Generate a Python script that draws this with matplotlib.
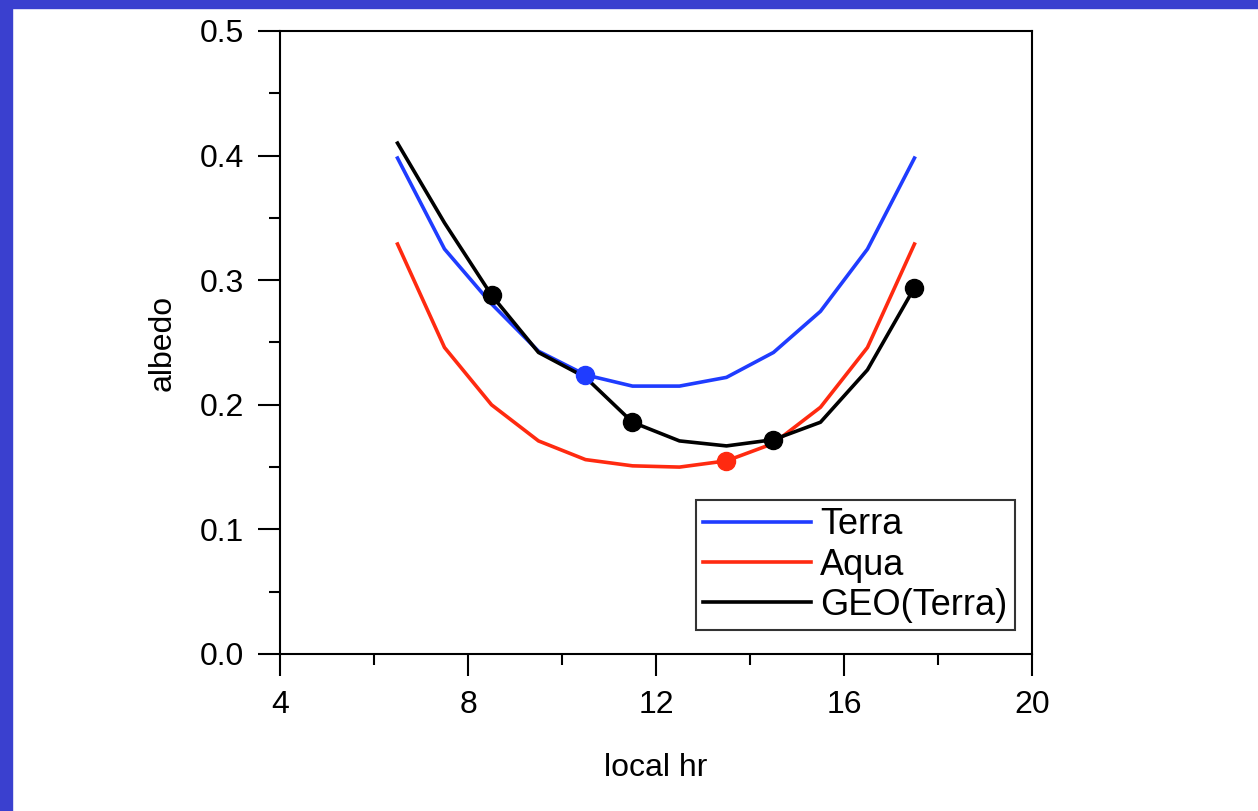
import numpy as np
import matplotlib
matplotlib.use('Agg')
import matplotlib.pyplot as plt
from matplotlib.patches import Rectangle
from matplotlib.ticker import MultipleLocator

plt.rcParams['font.family'] = ['Liberation Sans', 'DejaVu Sans']

# hora local (cada media hora entre 6.5 y 17.5)
horas = [6.5, 7.5, 8.5, 9.5, 10.5, 11.5, 12.5, 13.5, 14.5, 15.5, 16.5, 17.5]

terra = [0.398, 0.325, 0.281, 0.243, 0.224, 0.215, 0.215, 0.222, 0.242, 0.275, 0.325, 0.398]
aqua = [0.329, 0.246, 0.200, 0.171, 0.156, 0.151, 0.150, 0.155, 0.169, 0.198, 0.246, 0.329]
geo = [0.410, 0.346, 0.288, 0.242, 0.222, 0.186, 0.171, 0.167, 0.172, 0.186, 0.228, 0.294]

# horas donde hay punto
pts_terra = [10.5]
pts_aqua = [13.5]
pts_geo = [8.5, 11.5, 14.5, 17.5]

fig = plt.figure(figsize=(12.58, 8.11), dpi=100)
fig.patch.set_facecolor('white')

# borde azul de la diapositiva
azul = '#3a40cf'
fig.patches.append(Rectangle((0, 0), 0.0095, 1, transform=fig.transFigure, color=azul, zorder=0))
fig.patches.append(Rectangle((0, 0.99), 1, 0.01, transform=fig.transFigure, color=azul, zorder=0))

ax = fig.add_axes([0.2226, 0.1936, 0.5977, 0.7682])

ax.plot(horas, terra, color='#1f3cff', lw=2.6, label='Terra')
ax.plot(horas, aqua, color='#ff2a10', lw=2.6, label='Aqua')
ax.plot(horas, geo, color='black', lw=2.6, label='GEO(Terra)')

def marcar(lista_h, serie, color):
    ys = [serie[horas.index(h)] for h in lista_h]
    ax.plot(lista_h, ys, 'o', color=color, ms=13, zorder=5)

marcar(pts_terra, terra, '#1f3cff')
marcar(pts_aqua, aqua, '#ff2a10')
marcar(pts_geo, geo, 'black')

ax.set_xlim(4, 20)
ax.set_ylim(0, 0.5)
ax.xaxis.set_major_locator(MultipleLocator(4))
ax.xaxis.set_minor_locator(MultipleLocator(2))
ax.yaxis.set_major_locator(MultipleLocator(0.1))
ax.yaxis.set_minor_locator(MultipleLocator(0.05))
ax.yaxis.set_major_formatter(matplotlib.ticker.FormatStrFormatter('%.1f'))

ax.tick_params(which='major', direction='out', length=16, width=1.5, labelsize=23, pad=10)
ax.tick_params(which='minor', direction='out', length=8, width=1.5)
for s in ax.spines.values():
    s.set_linewidth(1.5)

ax.set_xlabel('local hr', fontsize=23, labelpad=24)
ax.set_ylabel('albedo', fontsize=23, labelpad=16)

leg = ax.legend(loc='lower right', bbox_to_anchor=(0.977, 0.038), fontsize=26,
                handlelength=3.0, fancybox=False, edgecolor='black',
                borderpad=0.2, labelspacing=0.15, handletextpad=0.25, borderaxespad=0)
leg.get_frame().set_linewidth(1.5)

plt.savefig('out.png', dpi=100)
